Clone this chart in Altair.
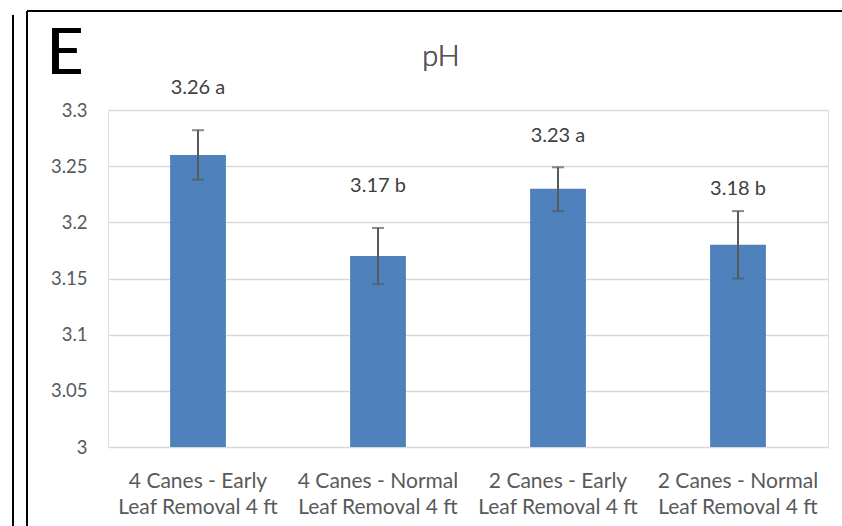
import altair as alt
import pandas as pd

line1 = ["4 Canes - Early", "4 Canes - Normal", "2 Canes - Early", "2 Canes - Normal"]
line2 = ["Leaf Removal 4 ft"] * 4
ph = [3.26, 3.17, 3.23, 3.18]
err_lo = [3.238, 3.145, 3.21, 3.15]
err_hi = [3.282, 3.195, 3.249, 3.21]
letters = ["a", "b", "a", "b"]
label_y = [3.3196, 3.232, 3.277, 3.230]

cats = [a + " " + b for a, b in zip(line1, line2)]
df = pd.DataFrame({
    "cat": cats, "ph": ph, "lo": err_lo, "hi": err_hi,
    "txt": [f"{v:.2f} {l}" for v, l in zip(ph, letters)], "ly": label_y,
})

FONT = "Lato"
W, H = 720, 337

xenc = alt.X("cat:N", sort=cats, title=None,
             scale=alt.Scale(paddingInner=0.69, paddingOuter=0.345),
             axis=alt.Axis(labelAngle=0, labelFontSize=21, labelColor="#595959", labelFont=FONT,
                           labelPadding=23, labelLineHeight=26, ticks=False,
                           domainColor="#d9d9d9", domainWidth=1,
                           labelExpr="[split(datum.label, ' Leaf')[0], 'Leaf' + split(datum.label, ' Leaf')[1]]"))
yscale = alt.Scale(domain=[3, 3.3], nice=False, zero=False)

base = alt.Chart(df)
bars = base.mark_bar(color="#4F81BD").encode(
    x=xenc,
    y=alt.Y("ph:Q", scale=yscale, title=None,
            axis=alt.Axis(values=[3, 3.05, 3.1, 3.15, 3.2, 3.25, 3.3], format="~g",
                          labelFontSize=18.5, labelColor="#595959", labelFont=FONT,
                          labelPadding=21, ticks=False, domain=False,
                          gridColor="#d9d9d9", gridWidth=1.3)),
    y2=alt.datum(3),
)
rule = base.mark_rule(color="#595959", strokeWidth=2).encode(
    x=alt.X("cat:N", sort=cats), y=alt.Y("lo:Q", scale=yscale), y2="hi:Q")
cap_lo = base.mark_tick(color="#595959", size=12, thickness=2).encode(
    x=alt.X("cat:N", sort=cats), y=alt.Y("lo:Q", scale=yscale))
cap_hi = base.mark_tick(color="#595959", size=12, thickness=2).encode(
    x=alt.X("cat:N", sort=cats), y=alt.Y("hi:Q", scale=yscale))
labels = base.mark_text(fontSize=20, color="#404040", font=FONT, fontWeight="normal", baseline="middle").encode(
    x=alt.X("cat:N", sort=cats), y=alt.Y("ly:Q", scale=yscale), text="txt:N")

title = alt.Chart(df).mark_text(fontSize=29, color="#595959", font=FONT, fontWeight=300, baseline="middle").encode(
    x=alt.value(333), y=alt.value(-53), text=alt.value("pH"))
letter = alt.Chart(df).mark_text(fontSize=64, color="#000000", font=FONT, fontWeight="normal", baseline="middle").encode(
    x=alt.value(-43), y=alt.value(-55), text=alt.value("E"))

frame_top = alt.Chart(df).mark_rule(color="black", strokeWidth=2).encode(
    x=alt.value(-81), x2=alt.value(740), y=alt.value(-99))
frame_left = alt.Chart(df).mark_rule(color="black", strokeWidth=2).encode(
    x=alt.value(-81), y=alt.value(-99), y2=alt.value(420))
prev_right = alt.Chart(df).mark_rule(color="black", strokeWidth=2).encode(
    x=alt.value(-95), y=alt.value(-95), y2=alt.value(420))

chart = alt.layer(bars, rule, cap_lo, cap_hi, labels, title, letter, frame_top, frame_left, prev_right).properties(
    width=W, height=H,
    padding={"left": 108, "top": 110, "right": 14, "bottom": 79},
    autosize=alt.AutoSizeParams(type="none"),
).configure_view(stroke=None).configure(background="white")

chart.save("out.html", embed_options={"renderer": "svg", "actions": False})
